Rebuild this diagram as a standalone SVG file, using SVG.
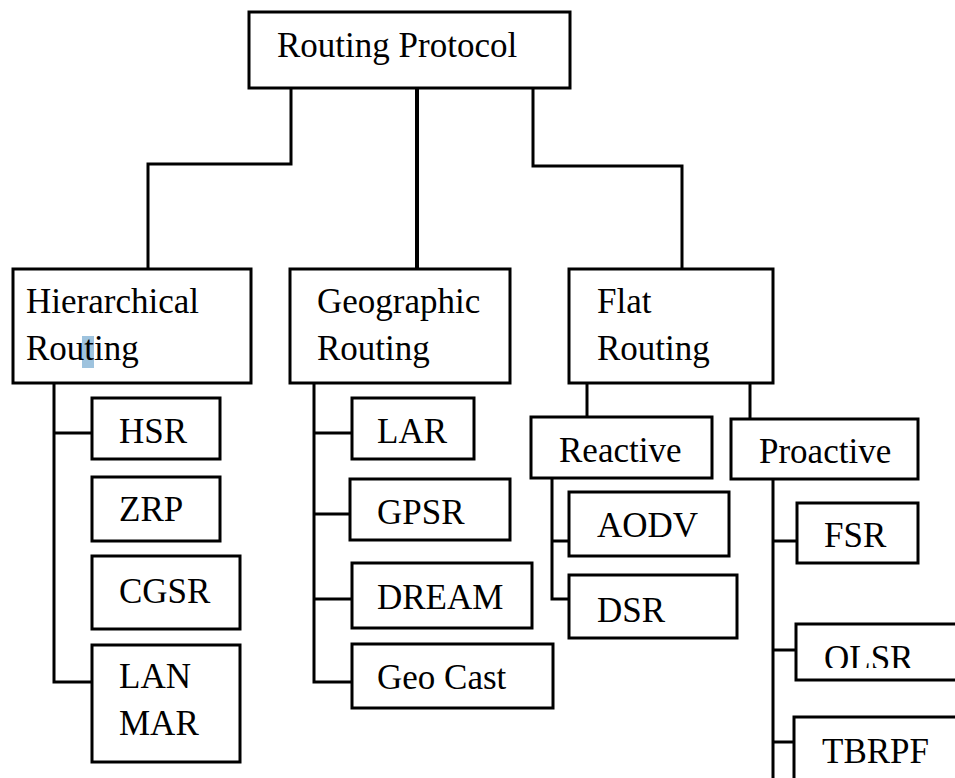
<svg xmlns="http://www.w3.org/2000/svg" width="955" height="778" viewBox="0 0 955 778">
<style>
.box{fill:#fff;stroke:#000;stroke-width:3}
.ln{fill:none;stroke:#000;stroke-width:3}
text{font-family:"Liberation Serif","Times New Roman",serif;font-size:35px;fill:#000}
</style>
<defs>
<clipPath id="olsrclip"><rect x="797" y="626" width="158" height="42"/></clipPath>
</defs>
<rect width="955" height="778" fill="#fff"/>
<g id="connectors">
<polyline class="ln" points="291,88 291,164 148,164 148,269"/>
<line class="ln" x1="417" y1="88" x2="417" y2="269" style="stroke-width:4"/>
<polyline class="ln" points="533,88 533,166 682,166 682,269"/>
<polyline class="ln" points="54,383 54,682 92,682"/>
<line class="ln" x1="54" y1="433" x2="92" y2="433"/>
<polyline class="ln" points="314,383 314,682 352,682"/>
<line class="ln" x1="314" y1="433" x2="352" y2="433"/>
<line class="ln" x1="314" y1="514" x2="350" y2="514"/>
<line class="ln" x1="314" y1="599" x2="352" y2="599"/>
<line class="ln" x1="587" y1="383" x2="587" y2="417"/>
<line class="ln" x1="750" y1="383" x2="750" y2="419"/>
<polyline class="ln" points="552,478 552,599 569,599"/>
<line class="ln" x1="552" y1="541" x2="569" y2="541"/>
<line class="ln" x1="773" y1="477" x2="773" y2="778"/>
<line class="ln" x1="773" y1="541" x2="797" y2="541"/>
<line class="ln" x1="773" y1="650" x2="796" y2="650"/>
<line class="ln" x1="773" y1="742" x2="794" y2="742"/>
</g>
<g id="root"><rect class="box" x="249" y="12" width="321" height="76"/><text x="277" y="57">Routing Protocol</text></g>
<g id="hierarchical"><rect class="box" x="13" y="269" width="238" height="114"/><rect x="82" y="336" width="12" height="32" fill="#9ec3de"/><text x="26" y="313">Hierarchical</text><text x="26" y="360">Routing</text></g>
<g id="geographic"><rect class="box" x="290" y="269" width="220" height="114"/><text x="317" y="313">Geographic</text><text x="317" y="360">Routing</text></g>
<g id="flat"><rect class="box" x="569" y="269" width="204" height="114"/><text x="597" y="313">Flat</text><text x="597" y="360">Routing</text></g>
<g id="hsr"><rect class="box" x="92" y="398" width="128" height="61"/><text x="119" y="443">HSR</text></g>
<g id="zrp"><rect class="box" x="92" y="477" width="128" height="64"/><text x="119" y="521">ZRP</text></g>
<g id="cgsr"><rect class="box" x="92" y="556" width="148" height="73"/><text x="119" y="603">CGSR</text></g>
<g id="lanmar"><rect class="box" x="92" y="645" width="148" height="117"/><text x="119" y="688">LAN</text><text x="119" y="735">MAR</text></g>
<g id="lar"><rect class="box" x="352" y="398" width="122" height="61"/><text x="377" y="443">LAR</text></g>
<g id="gpsr"><rect class="box" x="350" y="479" width="160" height="61"/><text x="377" y="524">GPSR</text></g>
<g id="dream"><rect class="box" x="352" y="563" width="180" height="65"/><text x="377" y="609">DREAM</text></g>
<g id="geocast"><rect class="box" x="352" y="644" width="201" height="64"/><text x="377" y="689">Geo Cast</text></g>
<g id="reactive"><rect class="box" x="531" y="417" width="181" height="61"/><text x="559" y="462">Reactive</text></g>
<g id="proactive"><rect class="box" x="731" y="419" width="187" height="60"/><text x="759" y="463">Proactive</text></g>
<g id="aodv"><rect class="box" x="569" y="492" width="160" height="64"/><text x="597" y="537">AODV</text></g>
<g id="dsr"><rect class="box" x="569" y="575" width="168" height="63"/><text x="597" y="622">DSR</text></g>
<g id="fsr"><rect class="box" x="797" y="503" width="121" height="60"/><text x="824" y="547">FSR</text></g>
<g id="olsr"><rect class="box" x="796" y="624" width="170" height="56"/><text x="824" y="670" clip-path="url(#olsrclip)">OLSR</text></g>
<g id="tbrpf"><rect class="box" x="794" y="717" width="170" height="70"/><text x="822" y="763">TBRPF</text></g>
</svg>
